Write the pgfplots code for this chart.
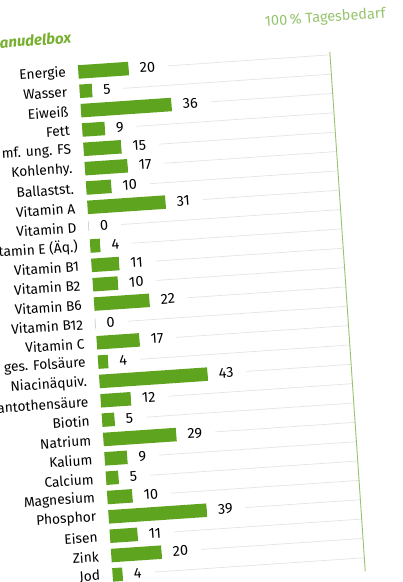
\documentclass[border=0pt]{standalone}
\usepackage{pgfplots}
\pgfplotsset{compat=1.18}
\usepackage{fontspec}
\setmainfont{Fira Sans}
\definecolor{barGreen}{RGB}{94,164,30}
\definecolor{titleGreen}{RGB}{118,176,46}
\definecolor{lightGreen}{RGB}{150,196,110}
\definecolor{gridGray}{RGB}{228,228,228}
\begin{document}
\begin{tikzpicture}
\path[use as bounding box, clip] (0,0) rectangle (403bp,-582bp);
\fill[white] (0,0) rectangle (403bp,-582bp);
\begin{scope}[rotate around={3.9:(201.5bp,-291bp)}, transform shape]
\node[anchor=base west, font=\fontsize{15bp}{18bp}\selectfont\bfseries\itshape, text=titleGreen, inner sep=0pt] at (17bp,-35bp) {anudelbox};
\node[anchor=base east, font=\fontsize{14.5bp}{17bp}\selectfont, text=lightGreen, inner sep=0pt] at (404bp,-31bp) {100\,\% Tagesbedarf};
\begin{axis}[
  at={(93.5bp,-35bp)}, anchor=north west,
  scale only axis, width=252.3bp, height=542.9bp,
  xmin=0, xmax=100, ymin=-1.5, ymax=26.5,
  y dir=reverse,
  xbar, bar shift=0pt,
  axis line style={draw=none}, tick style={draw=none},
  xtick=\empty,
  ytick={0,...,26},
  yticklabels={Energie,Wasser,Eiweiß,Fett,mf. ung. FS,Kohlenhy.,Ballastst.,Vitamin A,Vitamin D,Vitamin E (Äq.),Vitamin B1,Vitamin B2,Vitamin B6,Vitamin B12,Vitamin C,ges. Folsäure,Niacinäquiv.,Pantothensäure,Biotin,Natrium,Kalium,Calcium,Magnesium,Phosphor,Eisen,Zink,Jod},
  yticklabel style={font=\fontsize{13.8bp}{17bp}\selectfont, inner sep=0pt, xshift=-8bp},
  ymajorgrids, major grid style={gridGray, line width=0.7bp},
  /pgf/number format/assume math mode=true,
  every node near coord/.append style={anchor=west, fill=white, inner xsep=0pt, inner ysep=3pt, font=\fontsize{14.5bp}{18bp}\selectfont},
  clip=false,
]
\addplot[fill=barGreen, draw=none, bar width=13.5bp,
  nodes near coords={\hspace*{11bp}\pgfmathprintnumber{\pgfplotspointmeta}\hspace*{13bp}}] coordinates {
(20,0) (5,1) (36,2) (9,3) (15,4) (17,5) (10,6) (31,7) (0,8) (4,9)
(11,10) (10,11) (22,12) (0,13) (17,14) (4,15) (43,16) (12,17) (5,18)
(29,19) (9,20) (5,21) (10,22) (39,23) (11,24) (20,25) (4,26)
};
\addplot[draw=gray!40, fill=none, line width=1.2bp, bar width=9bp] coordinates {(0,8) (0,13)};
\draw[lightGreen, line width=0.9bp] (axis cs:100,-0.15) -- (axis cs:100,26.7);
\end{axis}
\end{scope}
\end{tikzpicture}
\end{document}
